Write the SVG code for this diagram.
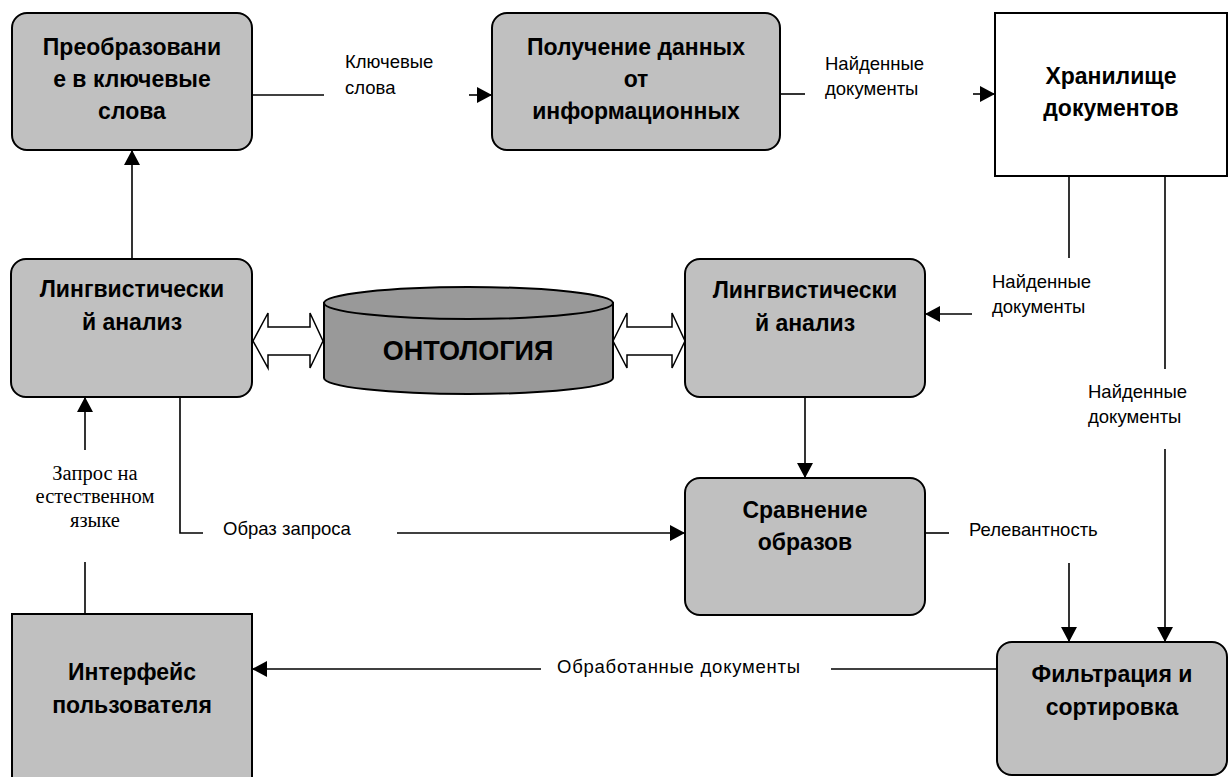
<svg xmlns="http://www.w3.org/2000/svg" width="1228" height="777" viewBox="0 0 1228 777">
<style>
.node{fill:#c0c0c0;stroke:#000;stroke-width:2}
.white{fill:#fff;stroke:#000;stroke-width:2}
.t{font-family:"Liberation Sans",Arial,sans-serif;font-weight:bold;font-size:23px;text-anchor:middle;fill:#000}
.lbl{font-family:"Liberation Sans",Arial,sans-serif;font-size:18.5px;fill:#000}
.ser{font-family:"Liberation Serif","Times New Roman",serif;font-size:20.5px;fill:#000;text-anchor:middle}
.c{fill:none;stroke:#000;stroke-width:1.6}
.a{fill:none;stroke:#000;stroke-width:1.6;marker-end:url(#ah)}
.dbl{fill:#fff;stroke:#000;stroke-width:1.5}
</style>
<defs>
<marker id="ah" markerUnits="userSpaceOnUse" markerWidth="15" markerHeight="16" refX="15" refY="8" orient="auto">
<path d="M0,0 L15,8 L0,16 z" fill="#000"/>
</marker>
</defs>
<rect width="1228" height="777" fill="#fff"/>

<g id="connectors">
<line class="c" x1="252" y1="95" x2="324" y2="95"/>
<line class="a" x1="469" y1="95" x2="492" y2="95"/>
<line class="c" x1="780" y1="94" x2="805" y2="94"/>
<line class="a" x1="973" y1="94" x2="995" y2="94"/>
<line class="c" x1="1069" y1="176" x2="1069" y2="258"/>
<line class="a" x1="972" y1="314" x2="925" y2="314"/>
<line class="c" x1="1165" y1="176" x2="1165" y2="369"/>
<line class="a" x1="1165" y1="449" x2="1165" y2="642"/>
<line class="a" x1="805" y1="397" x2="805" y2="478"/>
<line class="c" x1="925" y1="533" x2="949" y2="533"/>
<line class="a" x1="1069" y1="563" x2="1069" y2="642"/>
<line class="c" x1="997" y1="669" x2="831" y2="669"/>
<line class="a" x1="541" y1="669" x2="252" y2="669"/>
<line class="c" x1="85" y1="614" x2="85" y2="562"/>
<line class="a" x1="85" y1="450" x2="85" y2="397"/>
<line class="a" x1="132" y1="259" x2="132" y2="150"/>
<polyline class="c" points="180,397 180,533 203,533"/>
<line class="a" x1="397" y1="533" x2="685" y2="533"/>
<path class="dbl" d="M253,341 L268,313 L268,327 L310,327 L310,313 L323,341 L310,368 L310,355 L268,355 L268,368 Z"/>
<path class="dbl" d="M613,341 L627,313 L627,327 L672,327 L672,313 L685,341 L672,368 L672,355 L627,355 L627,368 Z"/>
<text class="lbl" x="345" y="68">Ключевые</text>
<text class="lbl" x="345" y="94">слова</text>
<text class="lbl" x="825" y="70">Найденные</text>
<text class="lbl" x="825" y="95">документы</text>
<text class="lbl" x="992" y="288">Найденные</text>
<text class="lbl" x="992" y="313">документы</text>
<text class="lbl" x="1088" y="398">Найденные</text>
<text class="lbl" x="1088" y="423">документы</text>
<text class="lbl" x="969" y="536">Релевантность</text>
<text class="lbl" x="557" y="673" textLength="243">Обработанные документы</text>
<text class="lbl" x="223" y="535">Образ запроса</text>
<text class="ser" x="95" y="480">Запрос на</text>
<text class="ser" x="95" y="503">естественном</text>
<text class="ser" x="95" y="527">языке</text>
</g>

<g id="keywords">
<rect class="node" x="12" y="13" width="240" height="137" rx="15"/>
<text class="t" x="132" y="55">Преобразовани</text>
<text class="t" x="132" y="87">е в ключевые</text>
<text class="t" x="132" y="119">слова</text>
</g>

<g id="retrieval">
<rect class="node" x="492" y="13" width="288" height="137" rx="15"/>
<text class="t" x="636" y="55">Получение данных</text>
<text class="t" x="636" y="87">от</text>
<text class="t" x="636" y="119">информационных</text>
</g>

<g id="storage">
<rect class="white" x="995" y="13" width="232" height="163"/>
<text class="t" x="1111" y="84">Хранилище</text>
<text class="t" x="1111" y="116">документов</text>
</g>

<g id="ling1">
<rect class="node" x="11" y="259" width="241" height="138" rx="15"/>
<text class="t" x="132" y="297">Лингвистически</text>
<text class="t" x="132" y="330">й анализ</text>
</g>

<g id="ontology">
<path d="M324,303 L324,378 A144.5,16 0 0 0 613,378 L613,303 Z" fill="#999" stroke="#000" stroke-width="2"/>
<ellipse cx="468.5" cy="303" rx="144.5" ry="16" fill="#999" stroke="#000" stroke-width="2"/>
<text x="468" y="360" font-family="Liberation Sans, Arial, sans-serif" font-weight="bold" font-size="27" text-anchor="middle">ОНТОЛОГИЯ</text>
</g>

<g id="ling2">
<rect class="node" x="685" y="259" width="240" height="138" rx="15"/>
<text class="t" x="805" y="298">Лингвистически</text>
<text class="t" x="805" y="331">й анализ</text>
</g>

<g id="compare">
<rect class="node" x="685" y="478" width="240" height="137" rx="15"/>
<text class="t" x="805" y="518">Сравнение</text>
<text class="t" x="805" y="550">образов</text>
</g>

<g id="filter">
<rect class="node" x="997" y="642" width="230" height="133" rx="15"/>
<text class="t" x="1112" y="682">Фильтрация и</text>
<text class="t" x="1112" y="715">сортировка</text>
</g>

<g id="interface">
<rect class="node" x="12" y="614" width="240" height="175"/>
<text class="t" x="132" y="680">Интерфейс</text>
<text class="t" x="132" y="713">пользователя</text>
</g>
</svg>
